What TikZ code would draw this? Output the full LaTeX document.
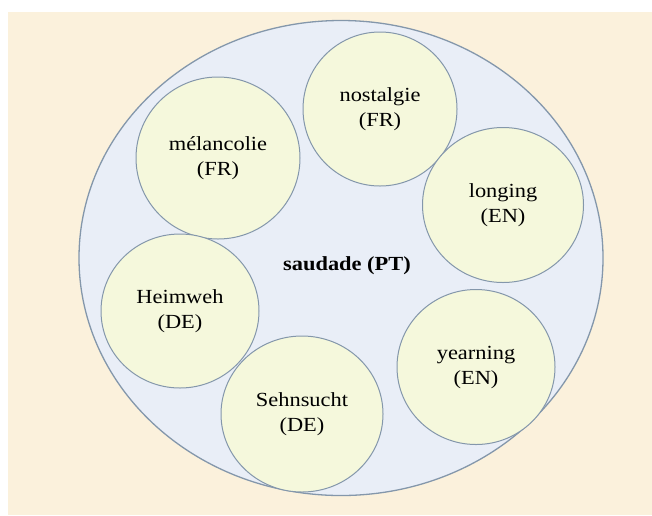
\documentclass[tikz,border=0pt]{standalone}
\usepackage{fontspec}
\setmainfont{Liberation Serif}[FakeStretch=1.12]
\usetikzlibrary{shapes.geometric}
\definecolor{paper}{HTML}{FBF1DC}
\definecolor{outerfill}{HTML}{E9EEF7}
\definecolor{innerfill}{HTML}{F5F8DC}
\definecolor{rim}{HTML}{8497AB}
\tikzset{
  whole/.style={ellipse, draw=rim, line width=1.3pt, fill=outerfill, inner sep=0pt},
  word/.style={ellipse, draw=rim, line width=1pt, fill=innerfill, inner sep=0pt,
    align=center, font=\fontsize{20}{25}\selectfont},
  core/.style={font=\fontsize{20}{25}\selectfont\bfseries}
}
\begin{document}
\begin{tikzpicture}[x=1pt, y=-1pt]
  \useasboundingbox (0,0) rectangle (652,515);
  \fill[white] (0,0) rectangle (652,515);
  \fill[paper] (8,12) rectangle (652,515);

  % the enclosing concept
  \node[whole, minimum width=524pt, minimum height=475pt] (saudade) at (341,258) {};
  \node[core] (label) at (347,266) {saudade (PT)};

  % neighbouring words
  \node[word, minimum width=154pt, minimum height=154pt] (nostalgie) at (380,109) {nostalgie\\(FR)};
  \node[word, minimum width=164pt, minimum height=162pt] (melancolie) at (218,158) {mélancolie\\(FR)};
  \node[word, minimum width=161pt, minimum height=155pt] (longing) at (503,205) {longing\\(EN)};
  \node[word, minimum width=158pt, minimum height=154pt] (heimweh) at (180,311) {Heimweh\\(DE)};
  \node[word, minimum width=158pt, minimum height=155pt] (yearning) at (476,367) {yearning\\(EN)};
  \node[word, minimum width=162pt, minimum height=156pt] (sehnsucht) at (302,414) {Sehnsucht\\(DE)};
\end{tikzpicture}
\end{document}
